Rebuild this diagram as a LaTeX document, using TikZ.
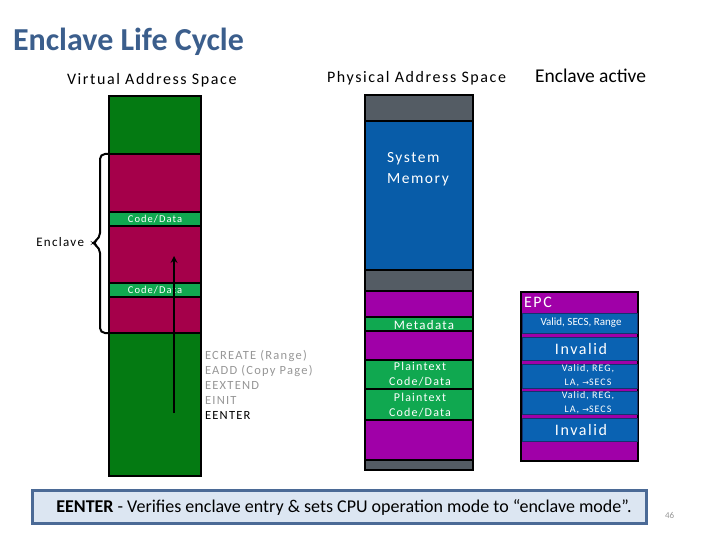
\documentclass[tikz,border=0pt]{standalone}
\usepackage{fontspec}
\setmainfont{Carlito}
\newfontfamily\spaced{Carlito}[LetterSpace=10]
\newfontfamily\arrowfont{DejaVu Sans}
\usetikzlibrary{positioning}
\usetikzlibrary{arrows}
\tikzset{>=stealth}
\definecolor{titleblue}{RGB}{59,94,140}
\definecolor{vgreen}{RGB}{4,122,18}
\definecolor{cdgreen}{RGB}{16,168,80}
\definecolor{crimson}{RGB}{165,0,74}
\definecolor{slate}{RGB}{84,92,100}
\definecolor{sysblue}{RGB}{8,92,168}
\definecolor{epcmag}{RGB}{160,0,168}
\definecolor{rowblue}{RGB}{10,98,178}
\definecolor{rowedge}{RGB}{20,50,110}
\definecolor{boxfill}{RGB}{220,230,242}
\definecolor{boxedge}{RGB}{75,106,150}
\definecolor{cmdgray}{RGB}{150,150,150}

\begin{document}
\begin{tikzpicture}[x=1pt, y=-1pt, line width=2.5pt,
  inner sep=0pt, outer sep=0pt,
  head/.style={anchor=base west, font=\spaced\fontsize{16}{18}\selectfont},
  band/.style={text=white, font=\spaced\fontsize{10.5}{12}\selectfont},
  inband/.style={text=white, align=center, font=\spaced\fontsize{12}{15}\selectfont},
  cmd/.style={anchor=base west, text=cmdgray, font=\spaced\fontsize{12.5}{13}\selectfont},
  row/.style={fill=rowblue, draw=rowedge, line width=1pt}]
\useasboundingbox (0,0) rectangle (720,540);

% headings
\node[anchor=base west, text=titleblue, font=\bfseries\fontsize{32}{36}\selectfont] (title) at (13,51) {Enclave Life Cycle};
\node[head] (vas) at (67,85) {Virtual Address Space};
\node[head] (pas) at (327,83) {Physical Address Space};
\node[anchor=base west, font=\fontsize{19.5}{22}\selectfont] (active) at (535,83) {Enclave active};

% virtual address space
\filldraw[fill=vgreen] (109,96) rectangle (201,154);
\filldraw[fill=crimson] (109,154) rectangle (201,212);
\filldraw[fill=cdgreen] (109,212) rectangle (201,226);
\filldraw[fill=crimson] (109,226) rectangle (201,283);
\filldraw[fill=cdgreen] (109,283) rectangle (201,297);
\filldraw[fill=crimson] (109,297) rectangle (201,333);
\filldraw[fill=vgreen] (109,333) rectangle (201,476);
\node[band] (cd1) at (155,219) {Code/Data};
\node[band] (cd2) at (155,290) {Code/Data};

% enclave brace
\draw[line width=2pt, rounded corners=5pt] (108,154) -- (100,154) -- (100,238) -- (92,243) -- (100,248) -- (100,333) -- (108,333);
\node[anchor=base east, font=\spaced\fontsize{13}{14}\selectfont] (encl) at (84,247) {Enclave};

% entry arrow
\coordinate (foot) at (174,413);
\coordinate (tip) at (174,256);
\draw[->, line width=2pt] (foot) -- (tip);

% instructions
\node[cmd] (ecreate) at (205,359) {ECREATE (Range)};
\node[cmd] (eadd) at (205,374) {EADD (Copy Page)};
\node[cmd] (eextend) at (205,389) {EEXTEND};
\node[cmd] (einit) at (205,404) {EINIT};
\node[cmd, text=black] (eenter) at (205,419) {EENTER};

% physical address space
\filldraw[fill=slate] (365,95) rectangle (473,121);
\filldraw[fill=sysblue] (365,121) rectangle (473,270);
\filldraw[fill=slate] (365,270) rectangle (473,291);
\filldraw[fill=epcmag] (365,291) rectangle (473,317);
\filldraw[fill=cdgreen] (365,317) rectangle (473,331);
\filldraw[fill=epcmag] (365,331) rectangle (473,360);
\filldraw[fill=cdgreen] (365,360) rectangle (473,389);
\filldraw[fill=cdgreen] (365,389) rectangle (473,420);
\filldraw[fill=epcmag] (365,420) rectangle (473,460);
\filldraw[fill=slate] (365,460) rectangle (473,470);
\node[anchor=base west, text=white, align=left, font=\spaced\fontsize{15.5}{21}\selectfont] (sysmem) at (387,184) {System\\Memory};
\node[band, font=\spaced\fontsize{13}{13}\selectfont] (meta) at (424,325) {Metadata};
\node[inband] (plain1) at (420,374) {Plaintext\\Code/Data};
\node[inband] (plain2) at (420,405) {Plaintext\\Code/Data};

% EPC
\filldraw[fill=epcmag, line width=2pt] (521,292) rectangle (638,461);
\node[anchor=base west, text=white, font=\spaced\fontsize{16}{16}\selectfont] (epc) at (524,307) {EPC};
\filldraw[row] (522,313) rectangle (637,333);
\filldraw[row] (522,337) rectangle (637,360);
\filldraw[row] (522,364) rectangle (637,388);
\filldraw[row] (522,391) rectangle (637,414);
\filldraw[row] (522,418) rectangle (637,441);
\node[text=white, font=\fontsize{11}{12}\selectfont] (r1) at (581,323) {Valid, SECS, Range};
\node[text=white, font=\spaced\fontsize{16}{16}\selectfont] (r2) at (581,349) {Invalid};
\node[inband, font=\spaced\fontsize{10}{14}\selectfont] (r3) at (588,376) {Valid, REG,\\LA, {\arrowfont\fontsize{8}{10}\selectfont→}SECS};
\node[inband, font=\spaced\fontsize{10}{14}\selectfont] (r4) at (588,403) {Valid, REG,\\LA, {\arrowfont\fontsize{8}{10}\selectfont→}SECS};
\node[text=white, font=\spaced\fontsize{16}{16}\selectfont] (r5) at (581,430) {Invalid};

% note box
\filldraw[fill=boxfill, draw=boxedge, line width=3pt] (32,490) rectangle (646,523);
\node[font=\fontsize{18}{20}\selectfont] (note) at (344,507) {\textbf{EENTER} - Verifies enclave entry \& sets CPU operation mode to “enclave mode”.};
\node[anchor=base west, text=cmdgray, font=\fontsize{9}{10}\selectfont] (page) at (665,518) {46};
\end{tikzpicture}
\end{document}
